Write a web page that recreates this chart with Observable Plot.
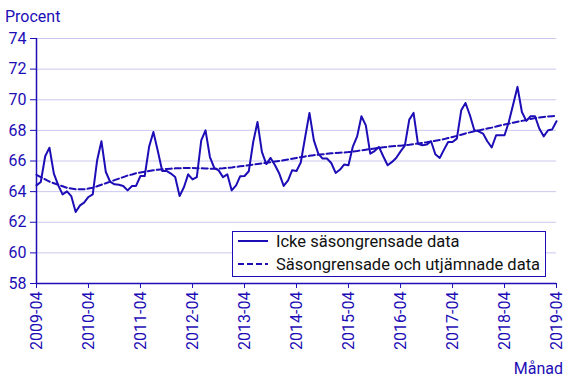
<!DOCTYPE html>
<html><head><meta charset="utf-8">
<script src="https://cdn.jsdelivr.net/npm/d3@7"></script>
<script src="https://cdn.jsdelivr.net/npm/@observablehq/plot@0.6"></script>
<style>body{margin:0;background:#fff;} svg{font-family:Roboto,sans-serif;}</style>
</head><body><div id="chart"></div>
<script>
// Monthly series from 2009-04 to 2019-04 (121 months)
const startYear = 2009, startMonthIndex = 3;
const actual = [
64.41,64.63,66.31,66.87,65.18,64.41,63.82,64.02,63.71,62.67,63.10,63.28,
63.65,63.82,66.05,67.29,65.28,64.63,64.48,64.45,64.37,64.08,64.37,64.37,
65.02,65.02,66.94,67.90,66.65,65.35,65.35,65.18,64.95,63.71,64.30,65.13,
64.80,64.95,67.35,68.00,66.26,65.54,65.39,64.95,65.13,64.08,64.41,65.00,
65.02,65.33,67.24,68.55,66.59,65.80,66.20,65.72,65.18,64.37,64.74,65.39,
65.35,65.90,67.57,69.14,67.35,66.48,66.16,66.16,65.87,65.22,65.44,65.77,
65.72,66.92,67.61,68.92,68.33,66.48,66.65,66.92,66.31,65.72,65.94,66.20,
66.63,67.00,68.70,69.14,67.13,67.03,67.07,67.29,66.44,66.20,66.76,67.24,
67.24,67.46,69.31,69.79,68.99,68.01,67.94,67.79,67.29,66.88,67.68,67.68,
67.68,68.55,69.71,70.84,69.20,68.62,68.92,68.92,68.12,67.61,68.01,68.05,
68.60];
const trend = [
65.10,64.95,64.80,64.65,64.55,64.45,64.35,64.25,64.20,64.15,64.15,64.15,
64.20,64.25,64.35,64.45,64.55,64.65,64.75,64.85,64.95,65.05,65.12,65.20,
65.25,65.30,65.35,65.40,65.43,65.46,65.48,65.50,65.52,65.53,65.54,65.54,
65.54,65.53,65.52,65.51,65.50,65.50,65.50,65.52,65.55,65.58,65.62,65.65,
65.68,65.72,65.76,65.80,65.84,65.88,65.92,65.96,66.00,66.05,66.10,66.15,
66.20,66.25,66.30,66.34,66.38,66.41,66.44,66.47,66.50,66.52,66.54,66.56,
66.58,66.61,66.65,66.70,66.74,66.78,66.82,66.86,66.90,66.93,66.96,66.98,
67.00,67.03,67.06,67.10,67.14,67.18,67.22,67.27,67.32,67.37,67.43,67.50,
67.57,67.64,67.72,67.80,67.87,67.94,68.00,68.06,68.12,68.18,68.25,68.32,
68.38,68.44,68.50,68.56,68.62,68.68,68.74,68.80,68.84,68.88,68.91,68.93,
68.94];
const yTicks = [58,60,62,64,66,68,70,72,74];
const tickYears = [2009,2010,2011,2012,2013,2014,2015,2016,2017,2018,2019];
const seriesNames = ["Icke säsongrensade data","Säsongrensade och utjämnade data"];
const yTitle = "Procent";
const xTitle = "Månad";

const months = actual.map((_, i) => new Date(Date.UTC(startYear, startMonthIndex + i, 1)));
const tickDates = tickYears.map(y => new Date(Date.UTC(y, startMonthIndex, 1)));
const data = months.map((d, i) => ({date: d, actual: actual[i], trend: trend[i]}));

const blue = "#1d0db6";
const grid = "#cac8ef";
const fs = 16;

const chart = Plot.plot({
  width: 568, height: 379,
  marginLeft: 36, marginRight: 12, marginTop: 38, marginBottom: 96,
  style: {fontFamily: "Roboto, sans-serif", fontSize: "16px", color: blue, background: "white", overflow: "visible"},
  x: {type: "utc", domain: [months[0], months[months.length - 1]]},
  y: {domain: [58, 74]},
  marks: [
    Plot.gridY(yTicks, {stroke: grid, strokeOpacity: 1, strokeWidth: 1}),
    Plot.axisY(yTicks, {tickSize: 6, tickPadding: 4, label: null, stroke: blue, fill: blue, fontSize: fs, tickFormat: d => String(d)}),
    Plot.axisX(tickDates, {tickFormat: d3.utcFormat("%Y-%m"), tickRotate: -90, tickSize: 5, tickPadding: 3, label: null, stroke: blue, fill: blue, fontSize: fs}),
    Plot.ruleY([58], {stroke: blue, strokeWidth: 1.5}),
    Plot.ruleX([months[0]], {stroke: blue, strokeWidth: 1.5}),
    Plot.line(data, {x: "date", y: "trend", stroke: blue, strokeWidth: 2, strokeDasharray: "6,3"}),
    Plot.line(data, {x: "date", y: "actual", stroke: blue, strokeWidth: 2})
  ]
});

const svg = d3.select(chart);
svg.append("text").attr("x", 5).attr("y", 22).attr("text-anchor", "start").attr("fill", blue).attr("font-size", fs).text(yTitle);
svg.append("text").attr("x", 563).attr("y", 374).attr("text-anchor", "end").attr("fill", blue).attr("font-size", fs).text(xTitle);

const lg = svg.append("g").attr("text-anchor", "start");
lg.append("rect").attr("x", 232.5).attr("y", 231.5).attr("width", 313).attr("height", 45)
  .attr("fill", "white").attr("stroke", blue).attr("stroke-width", 1);
lg.append("line").attr("x1", 238).attr("x2", 268).attr("y1", 241).attr("y2", 241).attr("stroke", blue).attr("stroke-width", 2);
lg.append("line").attr("x1", 238).attr("x2", 268).attr("y1", 264).attr("y2", 264).attr("stroke", blue).attr("stroke-width", 2).attr("stroke-dasharray", "6,3");
lg.append("text").attr("x", 276).attr("y", 247).attr("fill", "#111").attr("font-size", 16.5).text(seriesNames[0]);
lg.append("text").attr("x", 276).attr("y", 270).attr("fill", "#111").attr("font-size", 16.5).text(seriesNames[1]);

document.getElementById("chart").appendChild(chart);
</script>
</body></html>
